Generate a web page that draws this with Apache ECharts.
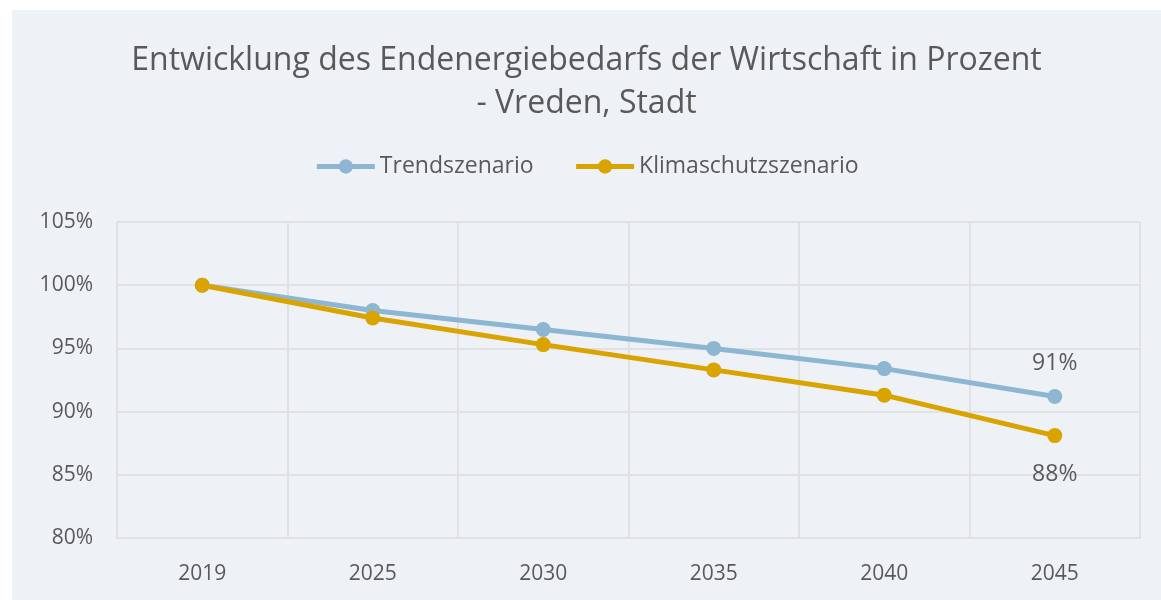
<!DOCTYPE html>
<html>
<head>
<meta charset="utf-8">
<script src="https://cdn.jsdelivr.net/npm/echarts@6/dist/echarts.min.js"></script>
<style>
    html, body { margin: 0; padding: 0; background: #ffffff; }
    #wrap { position: absolute; left: 12px; top: 10px; width: 1149px; height: 590px; background: #eef2f6; }
    #chart { width: 100%; height: 100%; }
</style>
</head>
<body>
<div id="wrap"><div id="chart"></div></div>
<script>
// Daten
const years = ["2019", "2025", "2030", "2035", "2040", "2045"];
const trendValues = [100, 98.0, 96.5, 95.0, 93.4, 91.2];
const klimaValues = [100, 97.4, 95.3, 93.3, 91.3, 88.1];
const seriesNames = ["Trendszenario", "Klimaschutzszenario"];

const textColor = "#595959";
const font = "'Open Sans', 'Noto Sans', sans-serif";

const chart = echarts.init(document.getElementById("chart"));

// Nur der letzte Punkt bekommt ein Label
const lastLabel = (pos, dist) => ({
    show: true,
    position: pos,
    distance: dist,
    color: textColor,
    fontSize: 23,
    fontFamily: font,
    formatter: (p) => (p.dataIndex === years.length - 1 ? Math.round(p.value) + "%" : "")
});

chart.setOption({
    animation: false,
    title: {
        text: "Entwicklung des Endenergiebedarfs der Wirtschaft in Prozent\n- Vreden, Stadt",
        left: "center",
        top: 24,
        textStyle: {
            color: textColor,
            fontSize: 32,
            fontWeight: "normal",
            fontFamily: font,
            lineHeight: 43
        }
    },
    legend: {
        top: 140,
        left: "center",
        itemWidth: 58,
        itemHeight: 18,
        itemGap: 40,
        textStyle: { color: textColor, fontSize: 23, fontFamily: font },
        lineStyle: { width: 5 },
        data: seriesNames
    },
    grid: { left: 105, right: 21, top: 212, bottom: 62 },
    xAxis: {
        type: "category",
        data: years,
        boundaryGap: true,
        axisLine: { lineStyle: { color: "#dfe1e3", width: 2 } },
        axisTick: { show: false },
        splitLine: { show: true, lineStyle: { color: "#dfe1e3", width: 2 } },
        axisLabel: { color: textColor, fontSize: 21, fontFamily: font, margin: 26 }
    },
    yAxis: {
        type: "value",
        min: 80,
        max: 105,
        interval: 5,
        axisLine: { show: false },
        axisTick: { show: false },
        splitLine: { lineStyle: { color: "#dfe1e3", width: 2 } },
        axisLabel: { color: textColor, fontSize: 21, fontFamily: font, margin: 24, formatter: "{value}%" }
    },
    series: [
        {
            name: seriesNames[0],
            type: "line",
            data: trendValues,
            color: "#8db6d2",
            symbol: "circle",
            symbolSize: 15,
            lineStyle: { width: 5 },
            label: lastLabel("top", 14)
        },
        {
            name: seriesNames[1],
            type: "line",
            data: klimaValues,
            color: "#d9a400",
            symbol: "circle",
            symbolSize: 15,
            lineStyle: { width: 5 },
            label: lastLabel("bottom", 20)
        }
    ]
});
</script>
</body>
</html>
